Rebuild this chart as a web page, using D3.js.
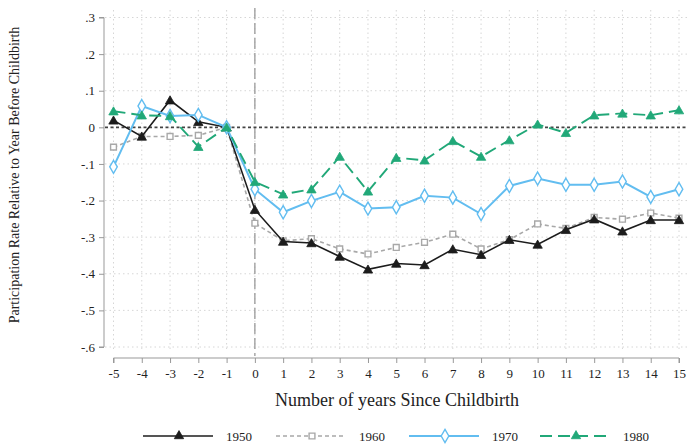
<!DOCTYPE html>
<html><head><meta charset="utf-8">
<script src="https://cdn.jsdelivr.net/npm/d3@7"></script>
<style>body{margin:0;background:#fff}svg{display:block}</style>
</head><body><svg id="c" width="688" height="444"></svg>
<script>
const years = [-5,-4,-3,-2,-1,0,1,2,3,4,5,6,7,8,9,10,11,12,13,14,15];
const s1950 = [0.019,-0.025,0.074,0.015,0,-0.225,-0.312,-0.316,-0.353,-0.388,-0.372,-0.376,-0.333,-0.348,-0.307,-0.320,-0.280,-0.251,-0.284,-0.253,-0.253];
const s1960 = [-0.054,-0.025,-0.025,-0.022,0,-0.262,-0.310,-0.304,-0.332,-0.346,-0.328,-0.314,-0.292,-0.332,-0.307,-0.264,-0.276,-0.246,-0.251,-0.234,-0.248];
const s1970 = [-0.108,0.058,0.031,0.034,0,-0.169,-0.232,-0.201,-0.176,-0.222,-0.218,-0.187,-0.192,-0.237,-0.160,-0.140,-0.157,-0.157,-0.148,-0.190,-0.169];
const s1980 = [0.044,0.033,0.031,-0.053,0,-0.149,-0.183,-0.169,-0.080,-0.175,-0.083,-0.090,-0.037,-0.080,-0.035,0.008,-0.015,0.033,0.038,0.033,0.047];
const yTicks = [0.3,0.2,0.1,0,-0.1,-0.2,-0.3,-0.4,-0.5,-0.6];
const yTickLabels = [".3",".2",".1","0","-.1","-.2","-.3","-.4","-.5","-.6"];
const seriesNames = ["1950","1960","1970","1980"];

const svg = d3.select("#c");
const font = "'Liberation Serif','Times New Roman',serif";
const x = d3.scaleLinear().domain([-5,15]).range([113.5,679]);
const y = d3.scaleLinear().domain([0.3,-0.6]).range([17.5,347]);

// gridlines
const grid = svg.append("g");
grid.selectAll("line.v").data(years).join("line")
  .attr("x1",d=>x(d)).attr("x2",d=>x(d)).attr("y1",10).attr("y2",352)
  .attr("stroke","#d6d6d6").attr("stroke-width",1).attr("stroke-dasharray","1.5,3");
grid.selectAll("line.h").data(yTicks.filter(d=>d!==0)).join("line")
  .attr("x1",105).attr("x2",688).attr("y1",d=>y(d)).attr("y2",d=>y(d))
  .attr("stroke","#d6d6d6").attr("stroke-width",1).attr("stroke-dasharray","1.5,3");

// y axis
const yAxis = d3.axisLeft(y).tickValues(yTicks).tickFormat((d,i)=>yTickLabels[i]).tickSize(5).tickPadding(4);
const gy = svg.append("g").attr("transform","translate(104,0)").call(yAxis);
gy.select(".domain").attr("stroke","#999").attr("d",`M-5,${y(0.3)}H0V${y(-0.6)}H-5`);
gy.selectAll(".tick line").attr("stroke","#999");
gy.selectAll("text").attr("font-family",font).attr("font-size",13).attr("fill","#222");

// x axis
const xAxis = d3.axisBottom(x).tickValues(years).tickFormat(d=>String(d)).tickSize(5).tickPadding(6);
const gx = svg.append("g").attr("transform","translate(0,358)").call(xAxis);
gx.select(".domain").attr("stroke","#999").attr("d",`M${x(-5)},5V0H${x(15)}V5`);
gx.selectAll(".tick line").attr("stroke","#999");
gx.selectAll("text").attr("font-family",font).attr("font-size",13).attr("fill","#222");

// reference lines
svg.append("line").attr("x1",x(0)).attr("x2",x(0)).attr("y1",8).attr("y2",356)
  .attr("stroke","#9a9a9a").attr("stroke-width",1.3).attr("stroke-dasharray","11,4");
svg.append("line").attr("x1",105).attr("x2",688).attr("y1",y(0)).attr("y2",y(0))
  .attr("stroke","#444").attr("stroke-width",1.6).attr("stroke-dasharray","3,2.5");

// titles
svg.append("text").attr("x",397).attr("y",406).attr("text-anchor","middle")
  .attr("font-family",font).attr("font-size",18).attr("fill","#222")
  .text("Number of years Since Childbirth");
svg.append("text").attr("transform","translate(18.5,175) rotate(-90)").attr("text-anchor","middle")
  .attr("font-family",font).attr("font-size",14).attr("fill","#222")
  .text("Participation Rate Relative to Year Before Childbirth");

const styles = {
  "1950":{color:"#1c1c1c",dash:null,width:1.6,marker:"tri",fill:"#1c1c1c"},
  "1960":{color:"#a8a8a8",dash:"4,3",width:1.6,marker:"sq",fill:"#fff"},
  "1970":{color:"#62bdf0",dash:null,width:2,marker:"dia",fill:"#fff"},
  "1980":{color:"#21a878",dash:"12,6",width:1.9,marker:"tri",fill:"#21a878"}
};
const data = {"1950":s1950,"1960":s1960,"1970":s1970,"1980":s1980};
const sym = {
  tri: d3.symbol().type(d3.symbolTriangle).size(38),
  sq: d3.symbol().type(d3.symbolSquare).size(34),
  dia: d3.symbol().type(d3.symbolDiamond).size(50)
};
const line = d3.line().x((d,i)=>x(years[i])).y(d=>y(d));

function drawSeries(name){
  const st = styles[name], vals = data[name];
  const g = svg.append("g");
  g.append("path").attr("d",line(vals)).attr("fill","none").attr("stroke",st.color)
    .attr("stroke-width",st.width).attr("stroke-dasharray",st.dash);
  g.selectAll("path.m").data(vals).join("path").attr("class","m")
    .attr("d",sym[st.marker]())
    .attr("transform",(d,i)=>`translate(${x(years[i])},${y(d)+(st.marker==="tri"?1:0)})`)
    .attr("fill",st.fill).attr("stroke",st.color).attr("stroke-width",st.marker==="tri"?0.8:1.4);
}
["1960","1950","1970","1980"].forEach(drawSeries);

// legend
const legX = [143,276,409,540];
seriesNames.forEach((name,i)=>{
  const st = styles[name], lx = legX[i], ly = 436;
  const g = svg.append("g");
  g.append("line").attr("x1",lx).attr("x2",lx+70).attr("y1",ly).attr("y2",ly)
    .attr("stroke",st.color).attr("stroke-width",st.width).attr("stroke-dasharray",st.dash);
  g.append("path").attr("d",sym[st.marker]())
    .attr("transform",`translate(${lx+36},${ly})`)
    .attr("fill",st.fill).attr("stroke",st.color).attr("stroke-width",st.marker==="tri"?0.8:1.4);
  g.append("text").attr("x",lx+83).attr("y",ly+4.5).attr("font-family",font)
    .attr("font-size",13).attr("fill","#222").text(name);
});
</script></body></html>
